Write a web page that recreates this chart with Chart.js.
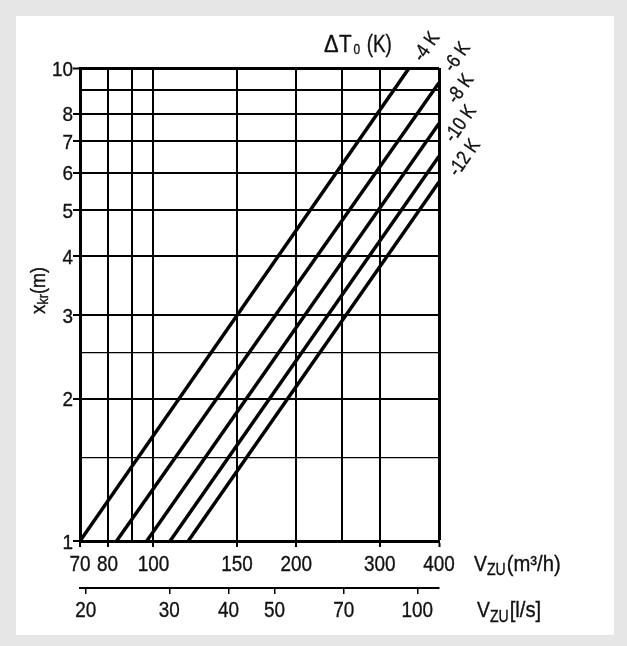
<!DOCTYPE html>
<html>
<head>
<meta charset="utf-8">
<script src="https://cdn.jsdelivr.net/npm/chart.js@4.4.1/dist/chart.umd.min.js"></script>
<style>
  html, body { margin: 0; padding: 0; background: #e6e6e6; width: 627px; height: 646px; overflow: hidden; }
  #panel { position: absolute; left: 16px; top: 16px; width: 598px; height: 619px; background: #ffffff; }
  canvas { display: block; }
</style>
</head>
<body>
<div id="panel"><canvas id="c" width="598" height="619"></canvas></div>
<script>
// ---- data ----
const flowTicks = [70, 80, 90, 100, 150, 200, 250, 300, 400];      // m³/h grid lines
const flowLabels = [70, 80, 100, 150, 200, 300, 400];               // m³/h labelled ticks
const lsTicks = [20, 30, 40, 50, 70, 100];                          // l/s ticks
const xkrTicks = [1, 1.5, 2, 2.5, 3, 4, 5, 6, 7, 8, 9, 10];         // x_kr grid lines
const xkrLabels = [1, 2, 3, 4, 5, 6, 7, 8, 10];                     // x_kr labelled ticks
const minorXkr = [1.5, 2.5];
const seriesNames = ['-4 K', '-6 K', '-8 K', '-10 K', '-12 K'];
const startFlow = [70, 83.6, 96.8, 108.4, 118.4];
const startXkr = [1, 1, 1, 1, 1];
const endFlow = [346, 400, 400, 400, 400];
const endXkr = [10, 9.31, 7.63, 6.51, 5.74];
const M3H_PER_LS = 3.6;

const FONT = '"Liberation Sans",Arial,Helvetica,sans-serif';
const TXT = '#111111';

const datasets = seriesNames.map((n, i) => ({
  label: n,
  data: [{x: startFlow[i], y: startXkr[i]}, {x: endFlow[i], y: endXkr[i]}],
  showLine: true,
  borderColor: '#000',
  borderWidth: 3.5,
  pointRadius: 0,
  borderCapStyle: 'butt',
  tension: 0,
  xAxisID: 'x',
  yAxisID: 'y'
}));

// label placement (offsets from chart area corners)
const lineLabelOffsets = [[-12.3, -21], [18.3, -10.7], [21.7, 21], [21.7, 56], [25.7, 90]];

function txt(ctx, s, x, y, size, align, sx, rot) {
  ctx.save();
  ctx.translate(x, y);
  if (rot) ctx.rotate(rot);
  ctx.scale(sx, 1);
  ctx.font = size + 'px ' + FONT;
  ctx.textAlign = align;
  ctx.fillText(s, 0, 0);
  ctx.lineWidth = 0.35;
  ctx.strokeStyle = TXT;
  ctx.strokeText(s, 0, 0);
  const w = ctx.measureText(s).width * sx;
  ctx.restore();
  return w;
}

const textPlugin = {
  id: 'texts',
  afterDraw(chart) {
    const ctx = chart.ctx;
    const a = chart.chartArea;
    const sx = chart.scales.x, sx2 = chart.scales.x2, sy = chart.scales.y;
    ctx.save();
    ctx.fillStyle = TXT;
    ctx.textBaseline = 'alphabetic';

    // tick labels (positions from the library's scales)
    flowLabels.forEach(v => txt(ctx, String(v), sx.getPixelForValue(v), sx.top + 29.7, 22, 'center', 0.86));
    lsTicks.forEach(v => txt(ctx, String(v), sx2.getPixelForValue(v), sx2.top + 29.3, 22, 'center', 0.86));
    xkrLabels.forEach(v => txt(ctx, String(v), sy.right - 7, sy.getPixelForValue(v) + 7.5, 21, 'right', 0.9));

    // ΔT0 (K)
    const by = a.top - 16.3;
    txt(ctx, '\u0394', a.right - 115, by, 23, 'left', 0.95);
    txt(ctx, 'T', a.right - 100, by, 23, 'left', 0.9);
    txt(ctx, '0', a.right - 85.5, by + 2.6, 14, 'left', 0.85);
    txt(ctx, '(K)', a.right - 72.3, by, 23, 'left', 0.82);

    // rotated series labels
    ctx.textBaseline = 'middle';
    seriesNames.forEach((n, i) => {
      const o = lineLabelOffsets[i];
      txt(ctx, n, a.right + o[0], a.top + o[1], 20, 'center', 0.84, -55 * Math.PI / 180);
    });
    ctx.textBaseline = 'alphabetic';

    // V_ZU (m³/h)
    let x0 = a.right + 35, y0 = sx.top + 29.7;
    x0 += txt(ctx, 'V', x0, y0, 22, 'left', 0.88);
    x0 += txt(ctx, 'ZU', x0, y0 + 4.5, 16, 'left', 0.88) + 1;
    txt(ctx, '(m\u00B3/h)', x0, y0, 22, 'left', 0.92);
    // V_ZU [l/s]
    x0 = a.right + 38; y0 = sx2.top + 29.3;
    x0 += txt(ctx, 'V', x0, y0, 22, 'left', 0.88);
    x0 += txt(ctx, 'ZU', x0, y0 + 4.5, 16, 'left', 0.88) + 1;
    txt(ctx, '[l/s]', x0, y0, 22, 'left', 0.92);

    // x_kr (m) rotated
    ctx.save();
    ctx.translate(a.left - 35.5, a.top + 246);
    ctx.rotate(-Math.PI / 2);
    let p = 0;
    p += txt(ctx, 'x', p, 0, 20, 'left', 0.95);
    p += txt(ctx, 'kr', p, 3, 14, 'left', 0.9);
    txt(ctx, '(m)', p, 0, 20, 'left', 0.9);
    ctx.restore();

    ctx.restore();
  }
};

new Chart(document.getElementById('c'), {
  type: 'scatter',
  data: { datasets },
  plugins: [textPlugin],
  options: {
    responsive: false,
    animation: false,
    events: [],
    layout: { padding: { top: 52, right: 175, left: 0, bottom: 0 } },
    plugins: { legend: { display: false }, tooltip: { enabled: false }, title: { display: false } },
    scales: {
      x: {
        type: 'logarithmic', position: 'bottom', weight: 0,
        min: flowTicks[0], max: flowTicks[flowTicks.length - 1],
        afterBuildTicks: s => { s.ticks = flowTicks.map(v => ({ value: v })); },
        afterFit: s => { s.height = 47; },
        ticks: { display: false, autoSkip: false },
        grid: {
          color: '#000',
          lineWidth: c => (c.tick && c.tick.value === flowTicks[flowTicks.length - 1]) ? 3 : 2,
          tickLength: 6, tickWidth: 2,
          tickColor: c => (c.tick && flowLabels.includes(c.tick.value)) ? '#000' : 'rgba(0,0,0,0)'
        },
        border: { display: true, color: '#000', width: 3 }
      },
      x2: {
        type: 'logarithmic', position: 'bottom', weight: 1,
        min: flowTicks[0] / M3H_PER_LS, max: flowTicks[flowTicks.length - 1] / M3H_PER_LS,
        afterBuildTicks: s => { s.ticks = lsTicks.map(v => ({ value: v })); },
        afterFit: s => { s.height = 47; },
        ticks: { display: false, autoSkip: false },
        grid: { drawOnChartArea: false, color: '#000', lineWidth: 1.5, tickLength: 6, tickWidth: 1.5 },
        border: { display: true, color: '#000', width: 2 }
      },
      y: {
        type: 'logarithmic', position: 'left',
        min: xkrTicks[0], max: xkrTicks[xkrTicks.length - 1],
        afterBuildTicks: s => { s.ticks = xkrTicks.map(v => ({ value: v })); },
        afterFit: s => { s.width = 64; },
        ticks: { display: false, autoSkip: false },
        grid: {
          color: '#000',
          lineWidth: c => {
            if (!c.tick) return 2;
            if (c.tick.value === xkrTicks[xkrTicks.length - 1]) return 3;
            return minorXkr.includes(c.tick.value) ? 1.3 : 2;
          },
          tickLength: 7, tickWidth: 2,
          tickColor: c => (c.tick && xkrLabels.includes(c.tick.value)) ? '#000' : 'rgba(0,0,0,0)'
        },
        border: { display: true, color: '#000', width: 3 }
      }
    }
  }
});
</script>
</body>
</html>
